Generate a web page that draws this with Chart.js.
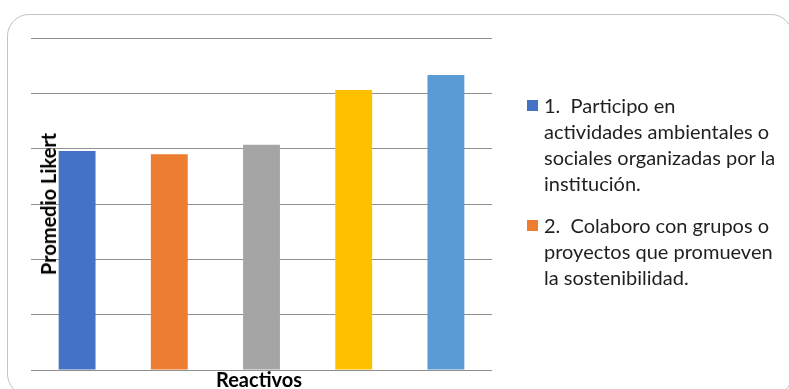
<!DOCTYPE html>
<html>
<head>
<meta charset="utf-8">
<script src="https://cdn.jsdelivr.net/npm/chart.js@4"></script>
<style>
  html, body { margin: 0; padding: 0; background: #fff; }
  body { width: 789px; height: 389px; position: relative; overflow: hidden; font-family: Lato, "Noto Sans", sans-serif; }
  #frame { position: absolute; left: 7px; top: 14px; width: 786px; height: 382px; border: 1.5px solid #c4c4c4; border-radius: 22px; box-sizing: border-box; }
  canvas { position: absolute; left: 0; top: 0; }
  #ytitle { position: absolute; left: 48px; top: 204px; transform: translate(-50%, -50%) rotate(-90deg); font-weight: bold; font-size: 20px; color: #000; white-space: nowrap; }
  #xtitle { position: absolute; left: 259px; top: 379px; transform: translate(-50%, -50%); font-weight: bold; font-size: 20px; color: #000; white-space: nowrap; }
  #legend { position: absolute; left: 527px; top: 92px; }
  .item { position: relative; padding-left: 17px; margin-bottom: 16px; }
  .box { position: absolute; left: 0; top: 8px; width: 11px; height: 11px; }
  .line { font-size: 20px; line-height: 26px; color: #1f1f1f; white-space: pre; }
</style>
</head>
<body>
<div id="frame"></div>
<canvas id="c" width="789" height="389"></canvas>
<div id="ytitle"></div>
<div id="xtitle"></div>
<div id="legend"></div>
<script>
const categories = ["1", "2", "3", "4", "5"];
const values = [3.96, 3.90, 4.07, 5.06, 5.33];
const barColors = ["#4472C4", "#ED7D31", "#A5A5A5", "#FFC000", "#5B9BD5"];
const legendLines = [
  ["1.  Participo en", "actividades ambientales o", "sociales organizadas por la", "institución."],
  ["2.  Colaboro con grupos o", "proyectos que promueven", "la sostenibilidad."]
];
const yTitle = "Promedio Likert";
const xTitle = "Reactivos";
const yMin = 0, yMax = 6, yStep = 1;

document.getElementById('ytitle').textContent = yTitle;
document.getElementById('xtitle').textContent = xTitle;
const leg = document.getElementById('legend');
legendLines.forEach((lines, i) => {
  const it = document.createElement('div');
  it.className = 'item';
  const b = document.createElement('div');
  b.className = 'box';
  b.style.background = barColors[i];
  it.appendChild(b);
  lines.forEach(t => {
    const l = document.createElement('div');
    l.className = 'line';
    l.textContent = t;
    it.appendChild(l);
  });
  leg.appendChild(it);
});

new Chart(document.getElementById('c'), {
  type: 'bar',
  data: {
    labels: categories,
    datasets: [{
      data: values,
      backgroundColor: barColors,
      borderWidth: 0,
      categoryPercentage: 1,
      barPercentage: 0.4
    }]
  },
  options: {
    responsive: false,
    animation: false,
    events: [],
    layout: { padding: { left: 31, right: 297, top: 38, bottom: 19 } },
    plugins: { legend: { display: false }, tooltip: { enabled: false } },
    scales: {
      x: { display: false },
      y: {
        min: yMin, max: yMax,
        ticks: { display: false, stepSize: yStep },
        border: { display: false },
        grid: { color: '#8f8f8f', lineWidth: 1, drawTicks: false }
      }
    }
  }
});
</script>
</body>
</html>
